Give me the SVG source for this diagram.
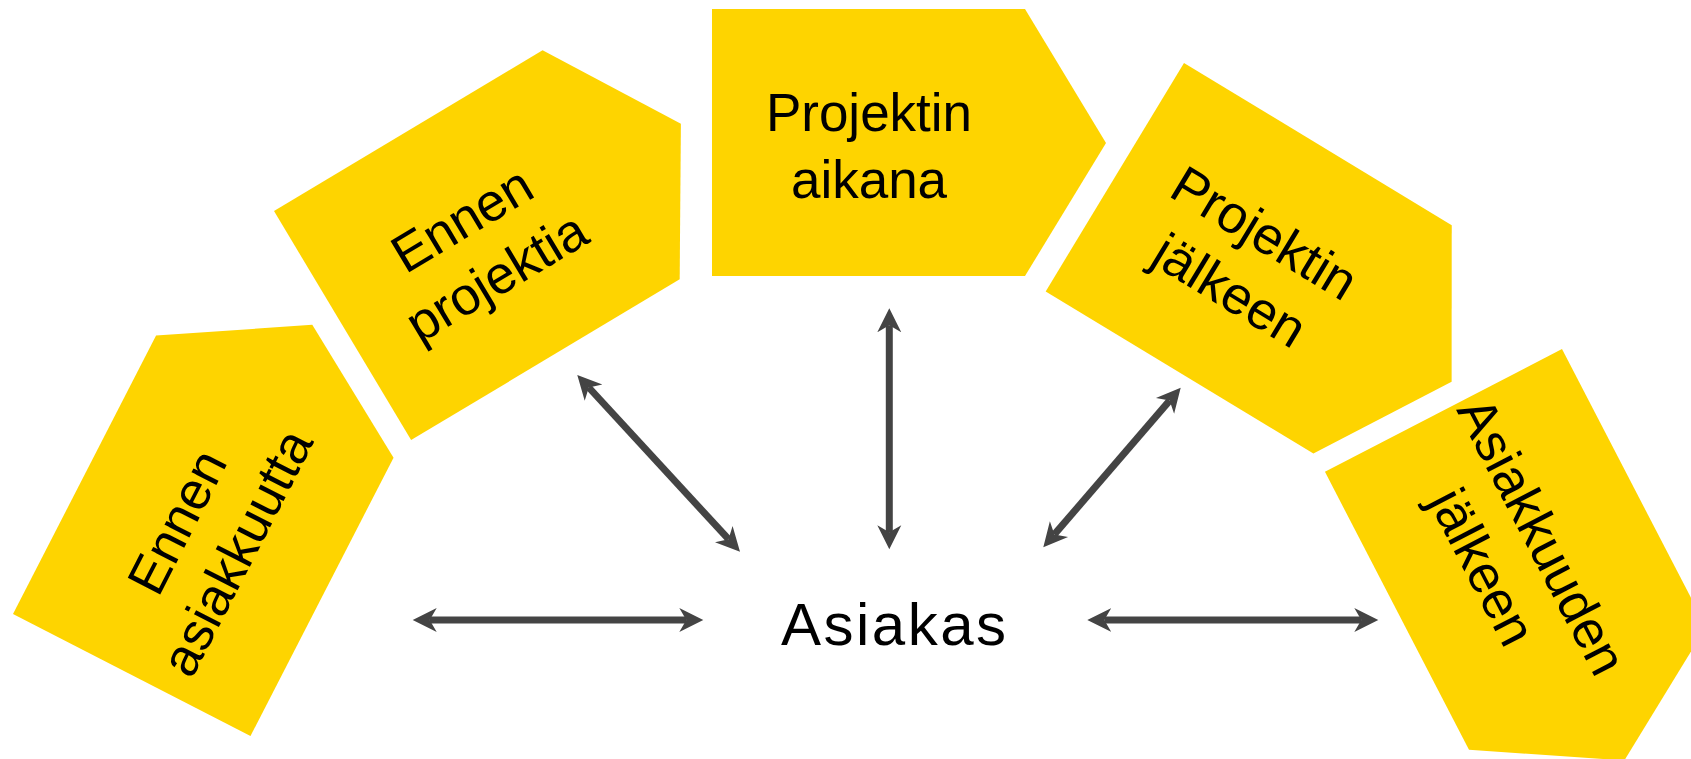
<svg xmlns="http://www.w3.org/2000/svg" xmlns:xlink="http://www.w3.org/1999/xlink" width="1691" height="759" viewBox="0 0 1691 759">
<style>
.shape{fill:#FED400}
.lbl{font-family:"Liberation Sans",Arial,sans-serif;font-size:53px;fill:#000;text-anchor:middle}
.center{font-family:"Liberation Sans",Arial,sans-serif;font-size:60px;fill:#000;letter-spacing:2.5px}
.conn line{stroke:#444;stroke-width:7;fill:none;marker-start:url(#ah);marker-end:url(#ah)}
</style>
<defs>
<path id="pent" d="M0,0H313L394,134L313,267H0Z"/>
<marker id="ah" markerUnits="userSpaceOnUse" viewBox="0 -13 25 26" refX="7" refY="0" markerWidth="25" markerHeight="26" orient="auto-start-reverse">
<path d="M24,0L0,-12L7,0L0,12Z" fill="#444"/>
</marker>
</defs>
<rect width="1691" height="759" fill="#fff"/>
<g id="node-ennen-asiakkuutta" transform="translate(13,614) rotate(-62.8)">
<use xlink:href="#pent" href="#pent" class="shape"/>
<text class="lbl"><tspan x="157" y="122">Ennen</tspan><tspan x="157" y="189">asiakkuutta</tspan></text>
</g>
<g id="node-ennen-projektia" transform="translate(274,211) rotate(-30.9)">
<use xlink:href="#pent" href="#pent" class="shape"/>
<text class="lbl"><tspan x="157" y="122">Ennen</tspan><tspan x="157" y="189">projektia</tspan></text>
</g>
<g id="node-projektin-aikana" transform="translate(712,9)">
<use xlink:href="#pent" href="#pent" class="shape"/>
<text class="lbl"><tspan x="157" y="122">Projektin</tspan><tspan x="157" y="189">aikana</tspan></text>
</g>
<g id="node-projektin-jalkeen" transform="translate(1184,63) rotate(31.2)">
<use xlink:href="#pent" href="#pent" class="shape"/>
<text class="lbl"><tspan x="157" y="122">Projektin</tspan><tspan x="157" y="189">jälkeen</tspan></text>
</g>
<g id="node-asiakkuuden-jalkeen" transform="translate(1562,349) rotate(62.6)">
<use xlink:href="#pent" href="#pent" class="shape"/>
<text class="lbl"><tspan x="157" y="122">Asiakkuuden</tspan><tspan x="157" y="189">jälkeen</tspan></text>
</g>
<g id="node-asiakas">
<text class="center" x="781" y="645">Asiakas</text>
</g>
<g id="connectors" class="conn">
<line x1="588.8" y1="387.5" x2="728.5" y2="539.2"/>
<line x1="889.3" y1="325.3" x2="889.3" y2="532.3"/>
<line x1="1054.4" y1="534.4" x2="1169.6" y2="400.6"/>
<line x1="429.7" y1="620" x2="686.3" y2="620"/>
<line x1="1104.3" y1="620" x2="1361.3" y2="620"/>
</g>
</svg>
